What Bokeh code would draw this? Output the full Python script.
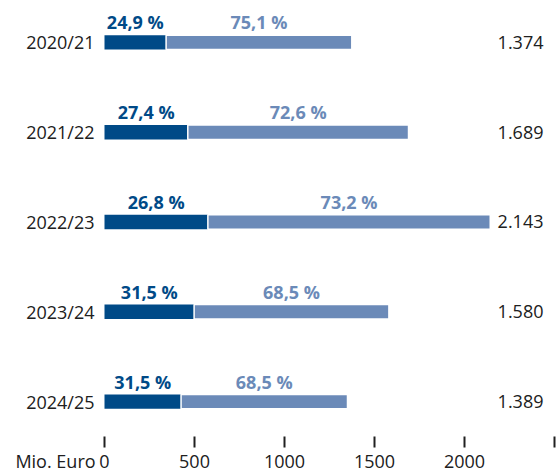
from bokeh.plotting import figure
from bokeh.models import Range1d, FixedTicker, LinearAxis, ColumnDataSource
from bokeh.core.properties import value
from bokeh.embed import file_html
from bokeh.resources import INLINE

years = ["2020/21", "2021/22", "2022/23", "2023/24", "2024/25"]
# bar lengths as drawn in the picture (Mio. Euro) and the printed totals
bar_totals = [1374, 1689, 2143, 1580, 1350]
total_labels = ["1.374", "1.689", "2.143", "1.580", "1.389"]
share_dark = [24.9, 27.4, 26.8, 31.5, 31.5]
share_light = [75.1, 72.6, 73.2, 68.5, 68.5]
ticks = [0, 500, 1000, 1500, 2000, 2500]
tick_labels = ["0", "500", "1000", "1500", "2000", ""]
unit_label = "Mio. Euro"

DARK = "#004a87"
LIGHT = "#6b8ab8"
TXT = "#202020"
FONT = "Open Sans"
FS = "18px"

def de(v):
    return f"{v:.1f}".replace(".", ",") + " %"

idx = list(range(len(years)))
dark_end = [t * d / 100 for t, d in zip(bar_totals, share_dark)]
src = ColumnDataSource(dict(
    y=idx,
    year=years,
    total=bar_totals,
    dark_end=dark_end,
    dark_mid=[e / 2 for e in dark_end],
    light_mid=[(e + t) / 2 for e, t in zip(dark_end, bar_totals)],
    dark_lbl=[de(v) for v in share_dark],
    light_lbl=[de(v) for v in share_light],
    total_lbl=total_labels,
    lbl_y=[i - 0.222 for i in idx],
    zero=[0] * len(years),
))

PX = 0.18          # pixels per Mio. Euro
ZERO = 104         # pixel of value 0
ROW0, ROWSTEP = 42, 90
FRAME_BOTTOM = 437
x0 = (0 - ZERO) / PX
x1 = (556 - ZERO) / PX
y_top = (0 - ROW0) / ROWSTEP
y_bot = (FRAME_BOTTOM - ROW0) / ROWSTEP

p = figure(width=556, height=475, output_backend="svg", toolbar_location=None,
           x_range=Range1d(x0, x1), y_range=Range1d(y_bot, y_top),
           min_border_left=0, min_border_right=0, min_border_top=0,
           min_border_bottom=475 - FRAME_BOTTOM)
p.outline_line_color = None
p.grid.visible = False
p.yaxis.visible = False

p.hbar(y="y", left="zero", right="dark_end", height=0.16, source=src,
       fill_color=DARK, line_color=None)
p.hbar(y="y", left="dark_end", right="total", height=0.16, source=src,
       fill_color=LIGHT, line_color="white", line_width=1.5)

p.text(x="dark_mid", y="lbl_y", text="dark_lbl", source=src, text_align="center",
       text_baseline="middle", text_font=value(FONT), text_font_style="bold",
       text_font_size=FS, text_color=DARK)
p.text(x="light_mid", y="lbl_y", text="light_lbl", source=src, text_align="center",
       text_baseline="middle", text_font=value(FONT), text_font_style="bold",
       text_font_size=FS, text_color=LIGHT)
p.text(x=(94 - ZERO) / PX, y="y", text="year", source=src, text_align="right",
       text_baseline="middle", text_font=value(FONT), text_font_size=FS,
       text_color=TXT)
p.text(x=(543 - ZERO) / PX, y="y", text="total_lbl", source=src, text_align="right",
       text_baseline="middle", text_font=value(FONT), text_font_size=FS,
       text_color=TXT)

# axis 1: tick marks only
ax = p.xaxis[0]
ax.ticker = FixedTicker(ticks=ticks)
ax.major_label_overrides = {t: "" for t in ticks}
ax.major_label_text_font_size = "1px"
ax.major_label_standoff = 0
ax.axis_line_color = None
ax.major_tick_in = 0
ax.major_tick_out = 11
ax.major_tick_line_width = 2
ax.major_tick_line_color = TXT
ax.minor_tick_line_color = None

# axis 2: tick labels, including the unit label left of zero
unit_pos = (55 - ZERO) / PX
lab_ticks = [unit_pos] + ticks
overrides = {unit_pos: unit_label}
overrides.update({t: l for t, l in zip(ticks, tick_labels)})
ax2 = LinearAxis(ticker=FixedTicker(ticks=lab_ticks), major_label_overrides=overrides,
                 axis_line_color=None, major_tick_in=0, major_tick_out=0,
                 minor_tick_line_color=None, major_label_standoff=1,
                 major_label_text_font=FONT, major_label_text_font_size=FS,
                 major_label_text_color=TXT)
p.add_layout(ax2, "below")

open("out.html", "w").write(file_html(p, INLINE))
